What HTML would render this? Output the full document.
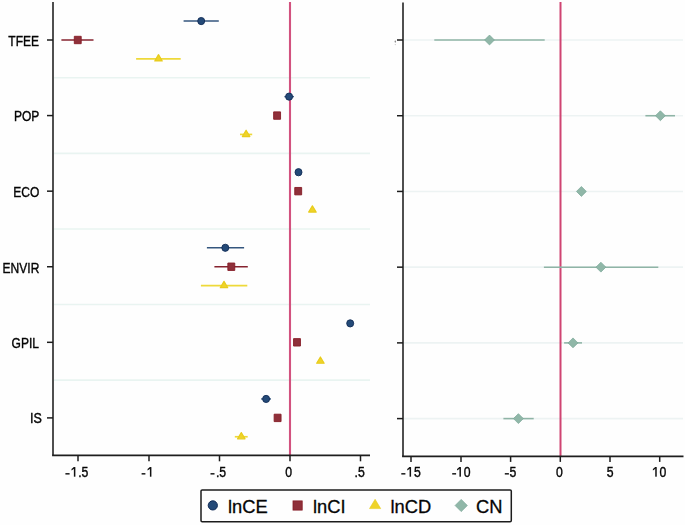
<!DOCTYPE html>
<html><head><meta charset="utf-8"><style>
html,body{margin:0;padding:0;background:#fefefe;}
svg{display:block;}
</style></head><body>
<svg width="685" height="525" viewBox="0 0 685 525">
<rect x="0" y="0" width="685" height="525" fill="#fefefe"/>
<line x1="54" y1="77.78999999999999" x2="370" y2="77.78999999999999" stroke="#e9f4f1" stroke-width="1.6" stroke-linecap="butt"/>
<line x1="54" y1="153.37" x2="370" y2="153.37" stroke="#e9f4f1" stroke-width="1.6" stroke-linecap="butt"/>
<line x1="54" y1="228.95" x2="370" y2="228.95" stroke="#e9f4f1" stroke-width="1.6" stroke-linecap="butt"/>
<line x1="54" y1="304.53" x2="370" y2="304.53" stroke="#e9f4f1" stroke-width="1.6" stroke-linecap="butt"/>
<line x1="54" y1="380.11" x2="370" y2="380.11" stroke="#e9f4f1" stroke-width="1.6" stroke-linecap="butt"/>
<line x1="404" y1="40.0" x2="683" y2="40.0" stroke="#edf3f3" stroke-width="1.6" stroke-linecap="butt"/>
<line x1="404" y1="115.72" x2="683" y2="115.72" stroke="#edf3f3" stroke-width="1.6" stroke-linecap="butt"/>
<line x1="404" y1="191.44" x2="683" y2="191.44" stroke="#edf3f3" stroke-width="1.6" stroke-linecap="butt"/>
<line x1="404" y1="267.15999999999997" x2="683" y2="267.15999999999997" stroke="#edf3f3" stroke-width="1.6" stroke-linecap="butt"/>
<line x1="404" y1="342.88" x2="683" y2="342.88" stroke="#edf3f3" stroke-width="1.6" stroke-linecap="butt"/>
<line x1="404" y1="418.6" x2="683" y2="418.6" stroke="#edf3f3" stroke-width="1.6" stroke-linecap="butt"/>
<line x1="290" y1="2" x2="290" y2="455" stroke="#d2527f" stroke-width="2.1" stroke-linecap="butt"/>
<line x1="560.5" y1="2" x2="560.5" y2="456" stroke="#cf4472" stroke-width="2.0" stroke-linecap="butt"/>
<line x1="53" y1="2" x2="53" y2="455.3" stroke="#3c3c3c" stroke-width="1.8" stroke-linecap="butt"/>
<line x1="52.1" y1="455.3" x2="370" y2="455.3" stroke="#1e1e1e" stroke-width="1.65" stroke-linecap="butt"/>
<line x1="403" y1="2.5" x2="403" y2="456.4" stroke="#3c3c3c" stroke-width="1.8" stroke-linecap="butt"/>
<line x1="402.1" y1="456.4" x2="683.5" y2="456.4" stroke="#1e1e1e" stroke-width="1.65" stroke-linecap="butt"/>
<line x1="47" y1="40.0" x2="53" y2="40.0" stroke="#1c1c1c" stroke-width="1.5" stroke-linecap="butt"/>
<line x1="47" y1="115.58" x2="53" y2="115.58" stroke="#1c1c1c" stroke-width="1.5" stroke-linecap="butt"/>
<line x1="47" y1="191.16" x2="53" y2="191.16" stroke="#1c1c1c" stroke-width="1.5" stroke-linecap="butt"/>
<line x1="47" y1="266.74" x2="53" y2="266.74" stroke="#1c1c1c" stroke-width="1.5" stroke-linecap="butt"/>
<line x1="47" y1="342.32" x2="53" y2="342.32" stroke="#1c1c1c" stroke-width="1.5" stroke-linecap="butt"/>
<line x1="47" y1="417.9" x2="53" y2="417.9" stroke="#1c1c1c" stroke-width="1.5" stroke-linecap="butt"/>
<line x1="397" y1="40.0" x2="403" y2="40.0" stroke="#1c1c1c" stroke-width="1.5" stroke-linecap="butt"/>
<line x1="397" y1="115.72" x2="403" y2="115.72" stroke="#1c1c1c" stroke-width="1.5" stroke-linecap="butt"/>
<line x1="397" y1="191.44" x2="403" y2="191.44" stroke="#1c1c1c" stroke-width="1.5" stroke-linecap="butt"/>
<line x1="397" y1="267.15999999999997" x2="403" y2="267.15999999999997" stroke="#1c1c1c" stroke-width="1.5" stroke-linecap="butt"/>
<line x1="397" y1="342.88" x2="403" y2="342.88" stroke="#1c1c1c" stroke-width="1.5" stroke-linecap="butt"/>
<line x1="397" y1="418.6" x2="403" y2="418.6" stroke="#1c1c1c" stroke-width="1.5" stroke-linecap="butt"/>
<line x1="78" y1="455.3" x2="78" y2="461.3" stroke="#1c1c1c" stroke-width="1.5" stroke-linecap="butt"/>
<line x1="149" y1="455.3" x2="149" y2="461.3" stroke="#1c1c1c" stroke-width="1.5" stroke-linecap="butt"/>
<line x1="219.5" y1="455.3" x2="219.5" y2="461.3" stroke="#1c1c1c" stroke-width="1.5" stroke-linecap="butt"/>
<line x1="290" y1="455.3" x2="290" y2="461.3" stroke="#1c1c1c" stroke-width="1.5" stroke-linecap="butt"/>
<line x1="360.5" y1="455.3" x2="360.5" y2="461.3" stroke="#1c1c1c" stroke-width="1.5" stroke-linecap="butt"/>
<line x1="411" y1="456.4" x2="411" y2="461.9" stroke="#1c1c1c" stroke-width="1.5" stroke-linecap="butt"/>
<line x1="461" y1="456.4" x2="461" y2="461.9" stroke="#1c1c1c" stroke-width="1.5" stroke-linecap="butt"/>
<line x1="510.6" y1="456.4" x2="510.6" y2="461.9" stroke="#1c1c1c" stroke-width="1.5" stroke-linecap="butt"/>
<line x1="560.3" y1="456.4" x2="560.3" y2="461.9" stroke="#1c1c1c" stroke-width="1.5" stroke-linecap="butt"/>
<line x1="610" y1="456.4" x2="610" y2="461.9" stroke="#1c1c1c" stroke-width="1.5" stroke-linecap="butt"/>
<line x1="659.7" y1="456.4" x2="659.7" y2="461.9" stroke="#1c1c1c" stroke-width="1.5" stroke-linecap="butt"/>
<ellipse cx="395.3" cy="41.6" rx="0.75" ry="1.1" fill="#8a8a8a"/>
<ellipse cx="395.3" cy="44.6" rx="0.6" ry="0.7" fill="#c4c4c4"/>
<line x1="183.6" y1="21.05" x2="218.8" y2="21.05" stroke="#34567e" stroke-width="1.4" stroke-linecap="butt"/>
<line x1="61.4" y1="40.0" x2="93.5" y2="40.0" stroke="#86232f" stroke-width="1.45" stroke-linecap="butt"/>
<line x1="136.1" y1="58.85" x2="180.7" y2="58.85" stroke="#eed93a" stroke-width="1.65" stroke-linecap="butt"/>
<line x1="434.3" y1="40.0" x2="544.7" y2="40.0" stroke="#8fb4a6" stroke-width="1.55" stroke-linecap="butt"/>
<line x1="284.4" y1="96.63" x2="293.9" y2="96.63" stroke="#34567e" stroke-width="1.4" stroke-linecap="butt"/>
<line x1="240.0" y1="134.43" x2="252.2" y2="134.43" stroke="#eed93a" stroke-width="1.65" stroke-linecap="butt"/>
<line x1="645.4" y1="115.72" x2="675.0" y2="115.72" stroke="#8fb4a6" stroke-width="1.55" stroke-linecap="butt"/>
<line x1="206.9" y1="247.79000000000002" x2="244.1" y2="247.79000000000002" stroke="#34567e" stroke-width="1.4" stroke-linecap="butt"/>
<line x1="214.4" y1="266.74" x2="247.8" y2="266.74" stroke="#86232f" stroke-width="1.45" stroke-linecap="butt"/>
<line x1="200.9" y1="285.59000000000003" x2="247.3" y2="285.59000000000003" stroke="#eed93a" stroke-width="1.65" stroke-linecap="butt"/>
<line x1="543.9" y1="267.15999999999997" x2="658.3" y2="267.15999999999997" stroke="#8fb4a6" stroke-width="1.55" stroke-linecap="butt"/>
<line x1="564.1" y1="342.88" x2="582.0" y2="342.88" stroke="#8fb4a6" stroke-width="1.55" stroke-linecap="butt"/>
<line x1="261.1" y1="398.95" x2="271.0" y2="398.95" stroke="#34567e" stroke-width="1.4" stroke-linecap="butt"/>
<line x1="234.8" y1="436.75" x2="247.7" y2="436.75" stroke="#eed93a" stroke-width="1.65" stroke-linecap="butt"/>
<line x1="503.4" y1="418.6" x2="533.7" y2="418.6" stroke="#8fb4a6" stroke-width="1.55" stroke-linecap="butt"/>
<ellipse cx="201.2" cy="21.05" rx="3.5" ry="3.6" fill="#244a78" stroke="#112b56" stroke-width="0.9"/>
<rect x="74.30" y="36.30" width="6.9" height="7.4" fill="#8f303a" stroke="#861c26" stroke-width="0.9" stroke-linejoin="round"/>
<path d="M154.75 60.95 L158.5 54.65 L162.25 60.95 Z" fill="#efd329" stroke="#e8cc1c" stroke-width="1.2" stroke-linejoin="round"/>
<path d="M484.55 40.0 L489.5 35.05 L494.45 40.0 L489.5 44.95 Z" fill="#90b7a8" stroke="#79a696" stroke-width="0.7"/>
<ellipse cx="289.1" cy="96.63" rx="3.5" ry="3.6" fill="#244a78" stroke="#112b56" stroke-width="0.9"/>
<rect x="273.65" y="111.88" width="6.9" height="7.4" fill="#8f303a" stroke="#861c26" stroke-width="0.9" stroke-linejoin="round"/>
<path d="M242.35 136.53 L246.1 130.23 L249.85 136.53 Z" fill="#efd329" stroke="#e8cc1c" stroke-width="1.2" stroke-linejoin="round"/>
<path d="M655.4499999999999 115.72 L660.4 110.77 L665.35 115.72 L660.4 120.67 Z" fill="#90b7a8" stroke="#79a696" stroke-width="0.7"/>
<ellipse cx="298.5" cy="172.21" rx="3.5" ry="3.6" fill="#244a78" stroke="#112b56" stroke-width="0.9"/>
<rect x="294.75" y="187.46" width="6.9" height="7.4" fill="#8f303a" stroke="#861c26" stroke-width="0.9" stroke-linejoin="round"/>
<path d="M308.65 212.11 L312.4 205.81 L316.15 212.11 Z" fill="#efd329" stroke="#e8cc1c" stroke-width="1.2" stroke-linejoin="round"/>
<path d="M576.4499999999999 191.44 L581.4 186.49 L586.35 191.44 L581.4 196.39 Z" fill="#90b7a8" stroke="#79a696" stroke-width="0.7"/>
<ellipse cx="225.3" cy="247.79000000000002" rx="3.5" ry="3.6" fill="#244a78" stroke="#112b56" stroke-width="0.9"/>
<rect x="227.85" y="263.04" width="6.9" height="7.4" fill="#8f303a" stroke="#861c26" stroke-width="0.9" stroke-linejoin="round"/>
<path d="M220.25 287.69 L224.0 281.39 L227.75 287.69 Z" fill="#efd329" stroke="#e8cc1c" stroke-width="1.2" stroke-linejoin="round"/>
<path d="M595.9499999999999 267.15999999999997 L600.9 262.21 L605.85 267.15999999999997 L600.9 272.10999999999996 Z" fill="#90b7a8" stroke="#79a696" stroke-width="0.7"/>
<ellipse cx="350.2" cy="323.37" rx="3.5" ry="3.6" fill="#244a78" stroke="#112b56" stroke-width="0.9"/>
<rect x="293.55" y="338.62" width="6.9" height="7.4" fill="#8f303a" stroke="#861c26" stroke-width="0.9" stroke-linejoin="round"/>
<path d="M316.65 363.27 L320.4 356.97 L324.15 363.27 Z" fill="#efd329" stroke="#e8cc1c" stroke-width="1.2" stroke-linejoin="round"/>
<path d="M568.05 342.88 L573.0 337.93 L577.95 342.88 L573.0 347.83 Z" fill="#90b7a8" stroke="#79a696" stroke-width="0.7"/>
<ellipse cx="266.1" cy="398.95" rx="3.5" ry="3.6" fill="#244a78" stroke="#112b56" stroke-width="0.9"/>
<rect x="274.15" y="414.20" width="6.9" height="7.4" fill="#8f303a" stroke="#861c26" stroke-width="0.9" stroke-linejoin="round"/>
<path d="M237.55 438.85 L241.3 432.55 L245.05 438.85 Z" fill="#efd329" stroke="#e8cc1c" stroke-width="1.2" stroke-linejoin="round"/>
<path d="M513.4499999999999 418.6 L518.4 413.65000000000003 L523.35 418.6 L518.4 423.55 Z" fill="#90b7a8" stroke="#79a696" stroke-width="0.7"/>
<g opacity="0.999">
<text x="39.00" y="45.70" font-family="'Liberation Sans', sans-serif" font-size="14.4" text-anchor="end" fill="#050505" stroke="#050505" stroke-width="0.4" transform="translate(39.00 0) scale(0.835 1) translate(-39.00 0)">TFEE</text>
<text x="39.40" y="121.48" font-family="'Liberation Sans', sans-serif" font-size="14.4" text-anchor="end" fill="#050505" stroke="#050505" stroke-width="0.4" transform="translate(39.40 0) scale(0.835 1) translate(-39.40 0)">POP</text>
<text x="39.40" y="197.06" font-family="'Liberation Sans', sans-serif" font-size="14.4" text-anchor="end" fill="#050505" stroke="#050505" stroke-width="0.4" transform="translate(39.40 0) scale(0.835 1) translate(-39.40 0)">ECO</text>
<text x="39.30" y="272.74" font-family="'Liberation Sans', sans-serif" font-size="14.4" text-anchor="end" fill="#050505" stroke="#050505" stroke-width="0.4" transform="translate(39.30 0) scale(0.835 1) translate(-39.30 0)">ENVIR</text>
<text x="39.00" y="348.02" font-family="'Liberation Sans', sans-serif" font-size="14.4" text-anchor="end" fill="#050505" stroke="#050505" stroke-width="0.4" transform="translate(39.00 0) scale(0.835 1) translate(-39.00 0)">GPIL</text>
<text x="41.80" y="423.20" font-family="'Liberation Sans', sans-serif" font-size="14.4" text-anchor="end" fill="#050505" stroke="#050505" stroke-width="0.4" transform="translate(41.80 0) scale(0.87 1) translate(-41.80 0)">IS</text>
<text x="88.43" y="477" font-family="'Liberation Sans', sans-serif" font-size="14.4" text-anchor="end" fill="#050505" stroke="#050505" stroke-width="0.4" transform="translate(88.43 0) scale(0.85 1) translate(-88.43 0)"> .5</text>
<rect x="73.87" y="467.1" width="1.5" height="9.6" fill="#111"/>
<path d="M73.87 467.1 L74.82 467.1 L74.52 468.4 L71.52 470.4 L71.52 469.1 Z" fill="#111"/>
<rect x="65.4" y="473.1" width="4.20" height="1.45" fill="#111"/>
<text x="154.26" y="477" font-family="'Liberation Sans', sans-serif" font-size="14.4" text-anchor="end" fill="#050505" stroke="#050505" stroke-width="0.4" transform="translate(154.26 0) scale(0.85 1) translate(-154.26 0)"> </text>
<rect x="149.91" y="467.1" width="1.5" height="9.6" fill="#111"/>
<path d="M149.91 467.1 L150.86 467.1 L150.56 468.4 L147.56 470.4 L147.56 469.1 Z" fill="#111"/>
<rect x="141.6" y="473.1" width="3.80" height="1.45" fill="#111"/>
<text x="226.13" y="477" font-family="'Liberation Sans', sans-serif" font-size="14.4" text-anchor="end" fill="#050505" stroke="#050505" stroke-width="0.4" transform="translate(226.13 0) scale(0.85 1) translate(-226.13 0)">.5</text>
<rect x="210.5" y="473.1" width="4.00" height="1.45" fill="#111"/>
<text x="292.09" y="477" font-family="'Liberation Sans', sans-serif" font-size="14.4" text-anchor="end" fill="#050505" stroke="#050505" stroke-width="0.4" transform="translate(292.09 0) scale(0.85 1) translate(-292.09 0)">0</text>
<text x="364.83" y="477" font-family="'Liberation Sans', sans-serif" font-size="14.4" text-anchor="end" fill="#050505" stroke="#050505" stroke-width="0.4" transform="translate(364.83 0) scale(0.85 1) translate(-364.83 0)">.5</text>
<text x="420.73" y="477" font-family="'Liberation Sans', sans-serif" font-size="14.4" text-anchor="end" fill="#050505" stroke="#050505" stroke-width="0.4" transform="translate(420.73 0) scale(0.85 1) translate(-420.73 0)"> 5</text>
<rect x="409.58" y="467.1" width="1.5" height="9.6" fill="#111"/>
<path d="M409.58 467.1 L410.53 467.1 L410.23 468.4 L407.23 470.4 L407.23 469.1 Z" fill="#111"/>
<rect x="401.3" y="473.1" width="4.10" height="1.45" fill="#111"/>
<text x="470.59" y="477" font-family="'Liberation Sans', sans-serif" font-size="14.4" text-anchor="end" fill="#050505" stroke="#050505" stroke-width="0.4" transform="translate(470.59 0) scale(0.85 1) translate(-470.59 0)"> 0</text>
<rect x="459.44" y="467.1" width="1.5" height="9.6" fill="#111"/>
<path d="M459.44 467.1 L460.39 467.1 L460.09 468.4 L457.09 470.4 L457.09 469.1 Z" fill="#111"/>
<rect x="452.2" y="473.1" width="3.90" height="1.45" fill="#111"/>
<text x="516.33" y="477" font-family="'Liberation Sans', sans-serif" font-size="14.4" text-anchor="end" fill="#050505" stroke="#050505" stroke-width="0.4" transform="translate(516.33 0) scale(0.85 1) translate(-516.33 0)">5</text>
<rect x="504.8" y="473.1" width="4.10" height="1.45" fill="#111"/>
<text x="562.89" y="477" font-family="'Liberation Sans', sans-serif" font-size="14.4" text-anchor="end" fill="#050505" stroke="#050505" stroke-width="0.4" transform="translate(562.89 0) scale(0.85 1) translate(-562.89 0)">0</text>
<text x="613.63" y="477" font-family="'Liberation Sans', sans-serif" font-size="14.4" text-anchor="end" fill="#050505" stroke="#050505" stroke-width="0.4" transform="translate(613.63 0) scale(0.85 1) translate(-613.63 0)">5</text>
<text x="666.39" y="477" font-family="'Liberation Sans', sans-serif" font-size="14.4" text-anchor="end" fill="#050505" stroke="#050505" stroke-width="0.4" transform="translate(666.39 0) scale(0.85 1) translate(-666.39 0)"> 0</text>
<rect x="655.24" y="467.1" width="1.5" height="9.6" fill="#111"/>
<path d="M655.24 467.1 L656.19 467.1 L655.89 468.4 L652.89 470.4 L652.89 469.1 Z" fill="#111"/>
</g>
<rect x="201" y="489.9" width="310.3" height="31.8" rx="1.2" fill="#fefefe" stroke="#1c1c1c" stroke-width="1.5"/>
<circle cx="212.8" cy="505.4" r="4.6" fill="#244a78" stroke="#112b56" stroke-width="1"/>
<rect x="293" y="500.9" width="9.2" height="9.2" fill="#8f303a" stroke="#861c26" stroke-width="0.8"/>
<path d="M369.5 508.6 L375.1 499.3 L380.7 508.6 Z" fill="#efd329" stroke="#e8cc1c" stroke-width="0.6"/>
<path d="M455.1 505.5 L461.2 499.4 L467.3 505.5 L461.2 511.6 Z" fill="#90b7a8" stroke="#79a696" stroke-width="0.7"/>
<g opacity="0.999">
<text x="228" y="513" font-family="'Liberation Sans', sans-serif" font-size="19" fill="#050505" stroke="#050505" stroke-width="0.3" transform="translate(228 0) scale(0.965 1) translate(-228 0)">lnCE</text>
<text x="313" y="513" font-family="'Liberation Sans', sans-serif" font-size="19" fill="#050505" stroke="#050505" stroke-width="0.3" transform="translate(313 0) scale(0.965 1) translate(-313 0)">lnCI</text>
<text x="390.5" y="513" font-family="'Liberation Sans', sans-serif" font-size="19" fill="#050505" stroke="#050505" stroke-width="0.3" transform="translate(390.5 0) scale(0.965 1) translate(-390.5 0)">lnCD</text>
<text x="476" y="513" font-family="'Liberation Sans', sans-serif" font-size="19" fill="#050505" stroke="#050505" stroke-width="0.3" transform="translate(476 0) scale(0.965 1) translate(-476 0)">CN</text>
</g>
</svg>
</body></html>
